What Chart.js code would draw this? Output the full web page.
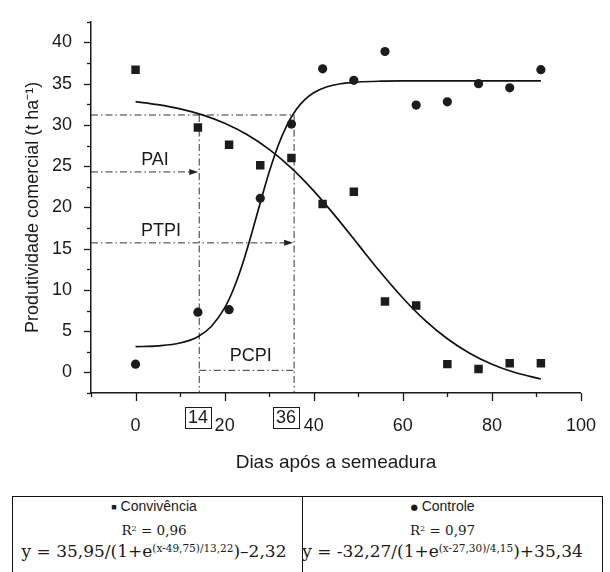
<!DOCTYPE html>
<html><head><meta charset="utf-8">
<script src="https://cdn.jsdelivr.net/npm/chart.js@4.4.0/dist/chart.umd.min.js"></script>
<style>
body{margin:0;background:#fff;width:610px;height:572px;overflow:hidden;position:relative;font-family:"Liberation Sans",Arial,sans-serif;color:#1a1a1a}
#wrap{position:absolute;left:0;top:0;width:610px;height:485px}
#tbl{position:absolute;left:12px;top:496px;width:591px;height:80px;border:1px solid #111;box-sizing:border-box}
.cell{position:absolute;top:0;height:100%}
#c1{left:0;width:289px;border-right:1px solid #111}
#c2{left:289px;right:0}
.ln{position:absolute;left:0;right:0;text-align:center;white-space:nowrap}
#c1 .ln{padding-right:7px}
#c2 .ln{padding-right:19px}
.l1{top:0;height:18px;line-height:18px;font-size:14px}
.l2{top:23px;height:18px;line-height:18px;font-family:"DejaVu Serif",serif;font-size:13.5px}
.l3{top:40px;height:22px;line-height:22px;font-family:"DejaVu Serif",serif;font-size:17px}
.l2 sup{font-size:8px;vertical-align:4px}
.l3 sup{font-size:10.5px;vertical-align:5px}
.sym{font-size:9px;vertical-align:1px}
.dot{font-size:8.5px;vertical-align:1px;font-family:"DejaVu Sans",sans-serif}
</style></head>
<body>
<div id="wrap"><canvas id="chart" width="610" height="485"></canvas></div>
<div id="tbl">
  <div class="cell" id="c1">
    <div class="ln l1"><span class="sym">■</span> Convivência</div>
    <div class="ln l2">R<sup>2</sup> = 0,96</div>
    <div class="ln l3">y = 35,95/(1+e<sup>(x-49,75)/13,22</sup>)–2,32</div>
  </div>
  <div class="cell" id="c2">
    <div class="ln l1"><span class="dot">●</span> Controle</div>
    <div class="ln l2">R<sup>2</sup> = 0,97</div>
    <div class="ln l3">y = -32,27/(1+e<sup>(x-27,30)/4,15</sup>)+35,34</div>
  </div>
</div>
<script>
// ---- data ----
const days = [0, 14, 21, 28, 35, 42, 49, 56, 63, 70, 77, 84, 91];
const convivencia = [36.7, 29.7, 27.6, 25.1, 26.0, 20.4, 21.9, 8.6, 8.1, 1.0, 0.4, 1.1, 1.1];
const controle = [1.0, 7.3, 7.6, 21.1, 30.1, 36.8, 35.4, 38.9, 32.4, 32.8, 35.0, 34.5, 36.7];

// fitted curves
const fitConvX = [0, 5, 10, 15, 20, 25, 30, 35, 40, 45, 50, 55, 60, 65, 70, 75, 80, 85, 91];
const fitConvY = [32.82, 32.45, 31.94, 31.21, 30.20, 28.84, 27.04, 24.76, 22.00, 18.85, 15.49, 12.13, 9.02, 6.30, 4.07, 2.32, 0.99, 0.02, -0.80];
const fitCtrlX = [0, 5, 10, 14, 17, 20, 22, 24, 26, 28, 30, 32, 34, 36, 38, 40, 43, 46, 50, 55, 60, 70, 80, 91];
const fitCtrlY = [3.11, 3.22, 3.56, 4.33, 5.56, 7.81, 10.11, 13.11, 16.70, 20.56, 24.28, 27.48, 29.98, 31.81, 33.06, 33.90, 34.62, 34.99, 35.20, 35.30, 35.33, 35.34, 35.34, 35.34];

const xTickLabels = [0, 20, 40, 60, 80, 100];
const yTickLabels = [0, 5, 10, 15, 20, 25, 30, 35, 40];

// critical-period annotations
const criticalDays = [14, 36];          // boxed labels
const criticalLineX = [14.3, 35.6];     // where the vertical dash-dot lines are drawn
const levelTop = 31.2;                  // horizontal line reaching both verticals
const levelPAI = 24.3;
const levelPTPI = 15.7;
const levelPCPI = 0.25;

const pts = (xs, ys) => xs.map((x, i) => ({x, y: ys[i]}));
const INK = '#1a1a1a';
const FONT = '"Liberation Sans", Arial, sans-serif';

const annot = {
  id: 'annot',
  beforeDatasetsDraw(chart) {
    const {ctx, scales: {x, y}} = chart;
    const X = v => x.getPixelForValue(v), Y = v => y.getPixelForValue(v);
    const x0 = x.left, xa = X(criticalLineX[0]), xb = X(criticalLineX[1]);
    ctx.save();
    ctx.strokeStyle = '#333';
    ctx.lineWidth = 1;
    ctx.setLineDash([7, 3, 1.5, 3]);
    const seg = (ax, ay, bx, by) => { ctx.beginPath(); ctx.moveTo(ax, ay); ctx.lineTo(bx, by); ctx.stroke(); };
    seg(x0, Y(levelTop), xb, Y(levelTop));
    seg(x0, Y(levelPAI), xa - 7, Y(levelPAI));
    seg(x0, Y(levelPTPI), xb - 7, Y(levelPTPI));
    seg(xa, Y(levelPCPI), xb, Y(levelPCPI));
    seg(xa, Y(levelTop), xa, y.bottom);
    seg(xb, Y(levelTop), xb, y.bottom);
    ctx.setLineDash([]);
    ctx.fillStyle = '#222';
    const arrow = (tx, ty) => { ctx.beginPath(); ctx.moveTo(tx, ty); ctx.lineTo(tx - 9, ty - 3); ctx.lineTo(tx - 9, ty + 3); ctx.closePath(); ctx.fill(); };
    arrow(xa - 1, Y(levelPAI));
    arrow(xb - 1, Y(levelPTPI));
    ctx.fillStyle = INK;
    ctx.font = '18px ' + FONT;
    ctx.textAlign = 'center';
    ctx.textBaseline = 'middle';
    ctx.fillText('PAI', 155, Y(levelPAI) - 12);
    ctx.fillText('PTPI', 161, Y(levelPTPI) - 12);
    ctx.fillText('PCPI', (xa + xb) / 2 + 4, Y(levelPCPI) - 14);
    ctx.restore();
  },
  afterDraw(chart) {
    const {ctx, scales: {x, y}} = chart;
    ctx.save();
    ctx.strokeStyle = INK;
    ctx.lineWidth = 1.3;
    // tick marks (outward)
    x.ticks.forEach(t => {
      const px = Math.round(x.getPixelForValue(t.value)) + 0.5;
      const len = t.value % 20 === 0 ? 8 : 4;
      ctx.beginPath(); ctx.moveTo(px, y.bottom); ctx.lineTo(px, y.bottom + len); ctx.stroke();
    });
    y.ticks.forEach(t => {
      const py = Math.round(y.getPixelForValue(t.value)) + 0.5;
      const len = (t.value % 5 === 0) ? 7 : 4;
      ctx.beginPath(); ctx.moveTo(x.left, py); ctx.lineTo(x.left - len, py); ctx.stroke();
    });
    // boxed critical days
    ctx.font = '18px ' + FONT;
    ctx.textAlign = 'center';
    ctx.textBaseline = 'middle';
    ctx.fillStyle = INK;
    ctx.lineWidth = 1;
    const offs = [0, -10];
    criticalDays.forEach((d, i) => {
      const cx = x.getPixelForValue(d) + offs[i];
      const w = ctx.measureText(String(d)).width + 6;
      ctx.strokeRect(Math.round(cx - w / 2) + 0.5, 407.5, Math.round(w), 21);
      ctx.fillText(String(d), cx, 418.5);
    });
    ctx.restore();
  }
};

Chart.defaults.color = INK;
Chart.defaults.font.family = FONT;

new Chart(document.getElementById('chart'), {
  type: 'scatter',
  data: {
    datasets: [
      { label: 'Convivência', data: pts(days, convivencia), pointStyle: 'rect', pointRadius: 6, backgroundColor: '#1c1c1c', borderWidth: 0, showLine: false },
      { label: 'Controle', data: pts(days, controle), pointStyle: 'circle', pointRadius: 4.6, backgroundColor: '#1c1c1c', borderWidth: 0, showLine: false },
      { label: 'Ajuste Convivência', data: pts(fitConvX, fitConvY), showLine: true, pointRadius: 0, borderColor: '#111', borderWidth: 1.7, cubicInterpolationMode: 'monotone', fill: false },
      { label: 'Ajuste Controle', data: pts(fitCtrlX, fitCtrlY), showLine: true, pointRadius: 0, borderColor: '#111', borderWidth: 1.7, cubicInterpolationMode: 'monotone', fill: false }
    ]
  },
  options: {
    responsive: false,
    animation: false,
    events: [],
    layout: { padding: { top: 12, right: 22, left: 0, bottom: 0 } },
    plugins: { legend: { display: false }, tooltip: { enabled: false } },
    scales: {
      x: {
        type: 'linear', min: -10, max: 100,
        afterFit: s => { s.height = 92; },
        grid: { display: false },
        border: { display: true, color: INK, width: 1.5 },
        ticks: { stepSize: 10, padding: 14, font: { size: 18 }, color: INK, maxRotation: 0, autoSkip: false,
          callback: v => xTickLabels.includes(v) ? String(v) : '' },
        title: { display: true, text: 'Dias após a semeadura', font: { size: 19 }, color: INK, padding: { top: 0, bottom: 10.5 } }
      },
      y: {
        min: -2.5, max: 42.5,
        afterFit: s => { s.width = 91; },
        grid: { display: false },
        border: { display: true, color: INK, width: 1.5 },
        ticks: { stepSize: 2.5, padding: 11, font: { size: 18 }, color: INK, autoSkip: false,
          callback: v => yTickLabels.includes(v) ? String(v) : '' },
        title: { display: true, text: 'Produtividade comercial (t ha\u207B\u00B9)', font: { size: 18 }, color: INK, padding: { top: 22.5, bottom: 0 } }
      }
    }
  },
  plugins: [annot]
});
</script>
</body></html>
